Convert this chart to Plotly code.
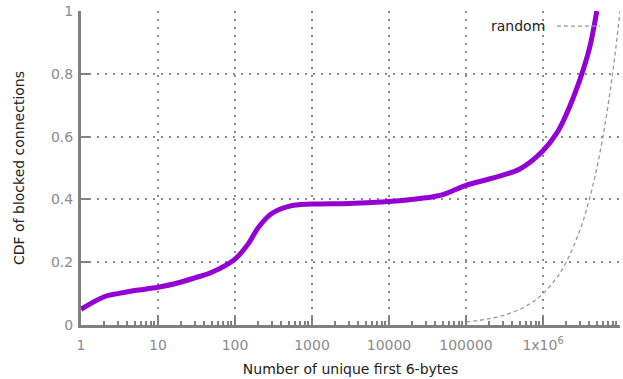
import plotly.graph_objects as go

# Data
cdf_x = [1, 2, 3, 5, 10, 20, 30, 50, 100, 150, 200, 300, 500, 1000, 3000, 10000,
         30000, 50000, 100000, 200000, 500000, 1e6, 1.5e6, 2e6, 3e6, 4e6, 5e6]
cdf_y = [0.05, 0.09, 0.10, 0.11, 0.12, 0.137, 0.15, 0.168, 0.21, 0.26, 0.31, 0.355,
         0.378, 0.385, 0.387, 0.393, 0.405, 0.415, 0.445, 0.465, 0.497, 0.555, 0.61,
         0.67, 0.78, 0.88, 1.0]

random_x = [1e5, 1.5e5, 2e5, 3e5, 5e5, 7e5, 1e6, 1.5e6, 2e6, 3e6, 4e6, 5e6, 6e6,
            7e6, 8e6, 9e6, 1e7]
random_y = [0.01, 0.015, 0.02, 0.03, 0.05, 0.07, 0.1, 0.15, 0.2, 0.3, 0.4, 0.5, 0.6,
            0.7, 0.8, 0.9, 1.0]

xtick_vals = [1, 10, 100, 1000, 10000, 100000, 1000000]
xtick_text = ["1", "10", "100", "1000", "10000", "100000", "1x10<sup>6</sup>"]
ytick_vals = [0, 0.2, 0.4, 0.6, 0.8, 1]
ytick_text = ["0", "0.2", "0.4", "0.6", "0.8", "1"]

FONT = "DejaVu Sans"
GRID = "#8a8a8a"
GRIDDASH = "2px,6px"

fig = go.Figure()
fig.add_trace(go.Scatter(x=random_x, y=random_y, mode="lines",
                         line=dict(color="#999999", width=1.3, dash="4px,3px", shape="spline"),
                         showlegend=False))
fig.add_trace(go.Scatter(x=cdf_x, y=cdf_y, mode="lines",
                         line=dict(color="#9400d3", width=5, shape="spline", smoothing=1.0),
                         showlegend=False))

# legend replica (gnuplot style: text then sample)
fig.add_annotation(x=0.8646, y=0.952, xref="paper", yref="paper", text="random",
                   showarrow=False, xanchor="right", yanchor="middle",
                   font=dict(family=FONT, size=14, color="#222"))
fig.add_shape(type="line", xref="paper", yref="paper", x0=0.883, x1=0.963, y0=0.952, y1=0.952,
              line=dict(color="#999999", width=1.3, dash="4px,3px"))

fig.update_xaxes(type="log", range=[0, 7], tickvals=xtick_vals, ticktext=xtick_text,
                 showgrid=True, gridcolor=GRID, gridwidth=2, griddash=GRIDDASH,
                 showline=True, linecolor="#808080", linewidth=3,
                 ticks="inside", ticklen=8, tickwidth=2, tickcolor="#808080",
                 minor=dict(ticks="inside", ticklen=4, tickwidth=1.5, tickcolor="#808080",
                            dtick="D1", showgrid=False),
                 tickfont=dict(family=FONT, size=14, color="#8a8a8a"),
                 ticklabelstandoff=5,
                 title=dict(text="Number of unique first 6-bytes", standoff=13,
                            font=dict(family=FONT, size=14, color="#222")),
                 zeroline=False)
fig.update_yaxes(range=[0, 1], tickvals=ytick_vals, ticktext=ytick_text,
                 showgrid=True, gridcolor=GRID, gridwidth=2, griddash=GRIDDASH,
                 showline=True, linecolor="#808080", linewidth=3,
                 ticks="inside", ticklen=8, tickwidth=2, tickcolor="#808080",
                 tickfont=dict(family=FONT, size=14, color="#8a8a8a"),
                 ticklabelstandoff=2,
                 title=dict(text="CDF of blocked connections", standoff=24,
                            font=dict(family=FONT, size=14, color="#222")),
                 zeroline=False)

fig.update_layout(width=623, height=379, margin=dict(l=81, r=3, t=11, b=54),
                  plot_bgcolor="white", paper_bgcolor="white",
                  font=dict(family=FONT))

fig.write_html("out.html")
